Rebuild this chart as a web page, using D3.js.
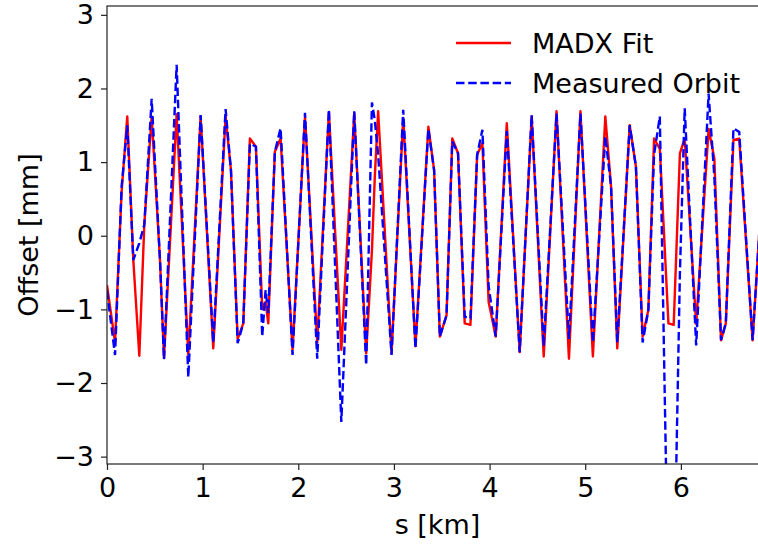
<!DOCTYPE html>
<html><head><meta charset="utf-8">
<script src="https://cdn.jsdelivr.net/npm/d3@7"></script>
<style>body{margin:0;background:#fff}svg{display:block}text{font-family:"DejaVu Sans",sans-serif}</style>
</head><body><svg id="c" width="758" height="546"></svg>
<script>
const sPos = [0.00,0.084,0.153,0.212,0.275,0.338,0.39,0.467,0.554,0.596,0.728,0.85,0.979,1.111,1.24,1.296,1.366,1.425,1.494,1.557,1.623,1.658,1.686,1.755,1.815,1.94,2.07,2.198,2.32,2.45,2.585,2.71,2.77,2.80,2.835,2.975,3.097,3.225,3.36,3.42,3.48,3.55,3.61,3.67,3.74,3.80,3.87,3.925,3.99,4.064,4.18,4.315,4.44,4.566,4.70,4.83,4.95,5.08,5.21,5.27,5.335,5.465,5.53,5.60,5.66,5.72,5.78,5.87,5.925,5.99,6.04,6.16,6.29,6.35,6.42,6.47,6.55,6.61,6.75,6.87];
const madxFit = [-0.67,-1.45,0.60,1.62,-0.33,-1.63,0.15,1.62,-0.33,-1.66,1.65,-1.62,1.62,-1.53,1.62,0.89,-1.40,-1.19,1.32,1.21,-1.0,-0.9,-1.19,1.14,1.32,-1.55,1.62,-1.45,1.68,-1.55,1.66,-1.6,-0.2,0.8,1.69,-1.6,1.6,-1.5,1.48,0.89,-1.37,-1.08,1.32,1.12,-1.19,-1.21,1.10,1.26,-0.9,-1.37,1.53,-1.58,1.62,-1.64,1.69,-1.67,1.69,-1.64,1.62,0.67,-1.53,1.50,0.94,-1.37,-1.01,1.32,1.18,-1.19,-1.21,1.12,1.32,-1.2,1.45,1.05,-1.42,-1.19,1.3,1.32,-1.42,1.1];
const measured = [-0.75,-1.62,0.67,1.50,-0.33,-0.10,0.15,1.86,-0.33,-1.68,2.32,-1.92,1.64,-1.45,1.72,0.89,-1.46,-1.19,1.25,1.21,-1.37,-0.74,-1.05,1.14,1.46,-1.62,1.67,-1.67,1.71,-2.53,1.69,-1.76,1.81,1.57,1.1,-1.62,1.71,-1.53,1.45,0.89,-1.37,-1.08,1.28,1.12,-1.1,-1.12,1.10,1.44,-0.68,-1.37,1.42,-1.58,1.64,-1.50,1.66,-1.40,1.66,-1.45,1.35,0.67,-1.45,1.50,0.94,-1.45,-1.01,1.1,1.62,-5,-5,-0.5,1.73,-1.49,1.93,0.80,-1.42,-1.19,1.46,1.41,-1.42,1.1];
const xTicks = [0,1,2,3,4,5,6];
const yTicks = [-3,-2,-1,0,1,2,3];
const seriesNames = ["MADX Fit","Measured Orbit"];
const seriesColors = ["#ff0000","#0000ff"];

const svg = d3.select("#c");
const L=107,R=768,T=6,B=464;
const FS = "27px";
const x = d3.scaleLinear().domain([0,6.911]).range([L,R]);
const y = d3.scaleLinear().domain([-3.10,3.12]).range([B,T]);

svg.append("defs").append("clipPath").attr("id","clip")
  .append("rect").attr("x",L).attr("y",T).attr("width",R-L).attr("height",B-T);

const line = d3.line().x(d=>x(d[0])).y(d=>y(d[1]));
const g = svg.append("g").attr("clip-path","url(#clip)");
g.append("path").datum(sPos.map((s,i)=>[s,madxFit[i]]))
  .attr("d",line).attr("fill","none").attr("stroke",seriesColors[0]).attr("stroke-width",2.4).attr("stroke-linejoin","round");
g.append("path").datum(sPos.map((s,i)=>[s,measured[i]]))
  .attr("d",line).attr("fill","none").attr("stroke",seriesColors[1]).attr("stroke-width",2.4).attr("stroke-dasharray","8.5,3.7");

svg.append("rect").attr("x",L).attr("y",T).attr("width",R-L).attr("height",B-T)
  .attr("fill","none").attr("stroke","#222").attr("stroke-width",1.2);

const xa = svg.append("g").attr("transform",`translate(0,${B})`)
  .call(d3.axisBottom(x).tickValues(xTicks).tickSize(6).tickPadding(8).tickFormat(d3.format("d")));
const ya = svg.append("g").attr("transform",`translate(${L},0)`)
  .call(d3.axisLeft(y).tickValues(yTicks).tickSize(6).tickPadding(7).tickFormat(d3.format("d")));
[xa,ya].forEach(a=>{
  a.select(".domain").remove();
  a.selectAll(".tick line").attr("stroke","#222").attr("stroke-width",1.2);
  a.selectAll(".tick text").attr("fill","#000").style("font-size",FS).style("font-family","DejaVu Sans");
});

svg.append("text").attr("x",(L+R)/2).attr("y",534).attr("text-anchor","middle")
  .style("font-size",FS).text("s [km]");
svg.append("text").attr("transform",`translate(38,${(T+B)/2}) rotate(-90)`).attr("text-anchor","middle")
  .style("font-size",FS).text("Offset [mm]");

const leg = svg.append("g");
[43,83].forEach((ly,i)=>{
  leg.append("line").attr("x1",456).attr("x2",511).attr("y1",ly).attr("y2",ly)
    .attr("stroke",seriesColors[i]).attr("stroke-width",2.4)
    .attr("stroke-dasharray", i===1 ? "8.5,3.7" : null);
  leg.append("text").attr("x",532).attr("y",ly).attr("dy","0.36em")
    .style("font-size",FS).text(seriesNames[i]);
});
</script></body></html>
